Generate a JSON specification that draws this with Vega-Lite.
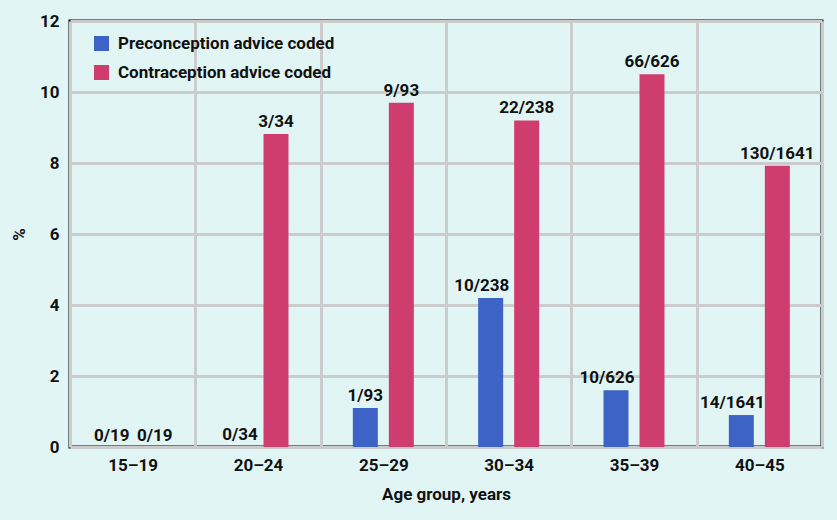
{
  "$schema": "https://vega.github.io/schema/vega-lite/v6.json",
  "width": 752,
  "height": 426,
  "autosize": {"type": "none"},
  "padding": {"left": 70, "top": 21, "right": 15, "bottom": 73},
  "background": "#e1f6f4",
  "config": {
    "font": "Roboto",
    "view": {"stroke": "#000000", "strokeWidth": 3, "fill": "#e1f6f4"},
    "axis": {
      "labelFont": "Roboto", "labelFontWeight": "bold", "labelFontSize": 17, "labelColor": "#111111",
      "titleFont": "Roboto", "titleFontWeight": "bold", "titleFontSize": 17, "titleColor": "#111111",
      "gridColor": "#cccccc", "gridWidth": 3, "gridOpacity": 1,
      "domain": false, "ticks": false
    }
  },
  "data": {
    "values": [
      {"age": "15–19", "series": "Preconception advice coded", "pct": 0, "label": "0/19"},
      {"age": "15–19", "series": "Contraception advice coded", "pct": 0, "label": "0/19"},
      {"age": "20–24", "series": "Preconception advice coded", "pct": 0, "label": "0/34"},
      {"age": "20–24", "series": "Contraception advice coded", "pct": 8.82, "label": "3/34"},
      {"age": "25–29", "series": "Preconception advice coded", "pct": 1.1, "label": "1/93"},
      {"age": "25–29", "series": "Contraception advice coded", "pct": 9.7, "label": "9/93"},
      {"age": "30–34", "series": "Preconception advice coded", "pct": 4.2, "label": "10/238"},
      {"age": "30–34", "series": "Contraception advice coded", "pct": 9.2, "label": "22/238"},
      {"age": "35–39", "series": "Preconception advice coded", "pct": 1.6, "label": "10/626"},
      {"age": "35–39", "series": "Contraception advice coded", "pct": 10.5, "label": "66/626"},
      {"age": "40–45", "series": "Preconception advice coded", "pct": 0.9, "label": "14/1641"},
      {"age": "40–45", "series": "Contraception advice coded", "pct": 7.92, "label": "130/1641"}
    ]
  },
  "encoding": {
    "x": {
      "field": "age", "type": "nominal", "sort": null,
      "scale": {"paddingInner": 0, "paddingOuter": 0},
      "axis": {"labelAngle": 0, "labelPadding": 10, "title": "Age group, years", "titlePadding": 13, "tickBand": "extent", "grid": true}
    },
    "xOffset": {
      "field": "series", "type": "nominal",
      "sort": ["Preconception advice coded", "Contraception advice coded"],
      "scale": {"paddingInner": 0.306, "paddingOuter": 0.893}
    },
    "y": {
      "field": "pct", "type": "quantitative",
      "scale": {"domain": [0, 12], "nice": false},
      "axis": {"values": [0, 2, 4, 6, 8, 10, 12], "title": "%", "titleAngle": -90, "labelPadding": 11, "titlePadding": 11, "grid": true}
    }
  },
  "layer": [
    {
      "mark": {"type": "bar", "width": 25},
      "encoding": {
        "color": {
          "field": "series", "type": "nominal",
          "sort": ["Preconception advice coded", "Contraception advice coded"],
          "scale": {"domain": ["Preconception advice coded", "Contraception advice coded"], "range": ["#3d63c6", "#cf3d6e"]},
          "legend": {
            "title": null, "orient": "none", "legendX": 23, "legendY": 14,
            "symbolType": "square", "symbolSize": 225, "symbolStrokeWidth": 0,
            "labelFont": "Roboto", "labelFontWeight": "bold", "labelFontSize": 17, "labelColor": "#111111",
            "labelOffset": 8, "rowPadding": 11, "labelLimit": 0
          }
        }
      }
    },
    {
      "transform": [{"filter": "datum.series == 'Contraception advice coded' && datum.age != '15–19'"}],
      "mark": {"type": "text", "baseline": "alphabetic", "dy": -7, "font": "Roboto", "fontWeight": "bold", "fontSize": 17, "color": "#111111"},
      "encoding": {"text": {"field": "label"}}
    },
    {
      "transform": [{"filter": "datum.series == 'Contraception advice coded' && datum.age == '15–19'"}],
      "mark": {"type": "text", "baseline": "alphabetic", "dy": -6, "dx": 4, "font": "Roboto", "fontWeight": "bold", "fontSize": 17, "color": "#111111"},
      "encoding": {"text": {"field": "label"}}
    },
    {
      "transform": [{"filter": "datum.series == 'Preconception advice coded' && (datum.age == '20–24' || datum.age == '25–29')"}],
      "mark": {"type": "text", "baseline": "alphabetic", "dy": -7, "font": "Roboto", "fontWeight": "bold", "fontSize": 17, "color": "#111111"},
      "encoding": {"text": {"field": "label"}}
    },
    {
      "transform": [{"filter": "datum.series == 'Preconception advice coded' && datum.age == '15–19'"}],
      "mark": {"type": "text", "baseline": "alphabetic", "dy": -6, "dx": -3, "font": "Roboto", "fontWeight": "bold", "fontSize": 17, "color": "#111111"},
      "encoding": {"text": {"field": "label"}}
    },
    {
      "transform": [{"filter": "datum.series == 'Preconception advice coded' && datum.age >= '30'"}],
      "mark": {"type": "text", "baseline": "alphabetic", "dy": -7, "dx": -9, "font": "Roboto", "fontWeight": "bold", "fontSize": 17, "color": "#111111"},
      "encoding": {"text": {"field": "label"}}
    }
  ]
}
